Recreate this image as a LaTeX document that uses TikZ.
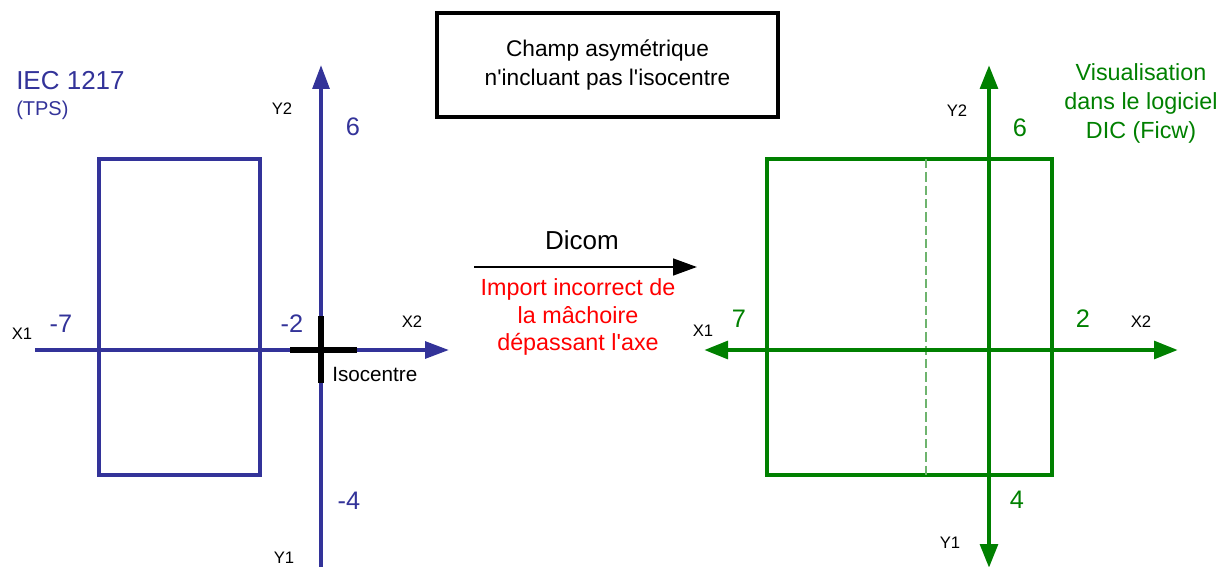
\documentclass[tikz,border=0pt]{standalone}
\usepackage{fontspec}
\setmainfont{Liberation Sans}
\usetikzlibrary{arrows.meta}
\definecolor{iecblue}{RGB}{51,51,153}
\definecolor{dicgreen}{RGB}{0,128,0}
\definecolor{dashgreen}{RGB}{110,180,110}
\newcommand{\sq}{\XeTeXglyph\XeTeXcharglyph"27\relax}
\begin{document}
\begin{tikzpicture}[x=0.75pt,y=-0.75pt,
  axlbl/.style={inner sep=0pt, font=\fontsize{12.5}{14}\selectfont},
  num/.style={inner sep=0pt, font=\fontsize{19}{22}\selectfont},
  tipmark/.style={-{Triangle[length=18pt,width=12.5pt]}},
  bothtips/.style={{Triangle[length=18pt,width=13pt]}-{Triangle[length=18pt,width=13pt]}},
  blueaxis/.style={draw=iecblue, line width=3pt},
  bluerect/.style={draw=iecblue, line width=3pt},
  greenaxis/.style={draw=dicgreen, fill=dicgreen, line width=3.6pt},
  greenrect/.style={draw=dicgreen, line width=3pt},
  crossline/.style={draw=black, line width=4.5pt},
  titlebox/.style={draw=black, line width=3pt, inner sep=0pt, minimum width=255.75pt, minimum height=78pt, align=center, font=\fontsize{17}{21.75}\selectfont},
  redtext/.style={text=red, inner sep=0pt, align=center, font=\fontsize{17.5}{20.5}\selectfont},
  greentext/.style={text=dicgreen, inner sep=0pt, align=center, font=\fontsize{17.5}{21.75}\selectfont}
]
\useasboundingbox (0,0) rectangle (1222,567);

% ---------------- left diagram (IEC 1217) ----------------
\coordinate (lyb) at (321,567);
\coordinate (lyt) at (321,65);
\coordinate (lxl) at (35,350);
\coordinate (lxr) at (449,350);
\draw[bluerect] (99,159) rectangle (260,475);
\draw[blueaxis, tipmark, fill=iecblue] (lyb) -- (lyt);
\draw[blueaxis, tipmark, fill=iecblue] (lxl) -- (lxr);
\coordinate (iso) at (321,350);
\coordinate (crl) at (290,350);
\coordinate (crr) at (357,350);
\coordinate (crt) at (321,316);
\coordinate (crb) at (321,383);
\draw[crossline] (crl) -- (crr);
\draw[crossline] (crt) -- (crb);

\node[anchor=west, inner sep=0pt, text=iecblue, font=\fontsize{19.5}{22}\selectfont] (iec) at (16,81) {IEC 1217};
\node[anchor=west, inner sep=0pt, text=iecblue, font=\fontsize{15}{18}\selectfont] (tps) at (16,110) {(TPS)};
\node[axlbl] (ly2) at (282,109) {Y2};
\node[num, text=iecblue] (l6) at (353,127) {6};
\node[axlbl] (lx1) at (22,334) {X1};
\node[num, text=iecblue] (lm7) at (61,324) {-7};
\node[num, text=iecblue] (lm2) at (292,324) {-2};
\node[axlbl] (lx2) at (412,322) {X2};
\node[anchor=west, inner sep=0pt, font=\fontsize{15.5}{18}\selectfont] (isolbl) at (332,374) {Isocentre};
\node[num, text=iecblue] (lm4) at (349,501) {-4};
\node[axlbl] (ly1) at (284,558) {Y1};

% ---------------- title ----------------
\node[titlebox] (title) at (607.5,65) {Champ asymétrique\\n\sq incluant pas l\sq isocentre};

% ---------------- middle arrow ----------------
\coordinate (ma) at (474,267);
\coordinate (mb) at (697,267);
\draw[black, line width=2pt, tipmark, fill=black] (ma) -- (mb);
\node[inner sep=0pt, font=\fontsize{19.5}{22}\selectfont] (dicom) at (582,240) {Dicom};
\node[redtext] (err) at (578,317) {Import incorrect de\\la mâchoire\\dépassant l\sq axe};

% ---------------- right diagram (DIC) ----------------
\coordinate (ryb) at (989,568);
\coordinate (ryt) at (989,65);
\coordinate (rxl) at (704,350);
\coordinate (rxr) at (1178,350);
\draw[greenrect] (767,159) rectangle (1052,475);
\coordinate (dsh1) at (926,159);
\coordinate (dsh2) at (926,475);
\draw[dashgreen, line width=1.1pt, dash pattern=on 7pt off 3pt] (dsh1) -- (dsh2);
\draw[greenaxis, bothtips] (ryb) -- (ryt);
\draw[greenaxis, bothtips] (rxl) -- (rxr);

\node[axlbl] (ry2) at (957,111) {Y2};
\node[num, text=dicgreen] (r6) at (1020,128) {6};
\node[greentext] (vis) at (1141,103) {Visualisation\\dans le logiciel\\DIC (Ficw)};
\node[axlbl] (rx1) at (703,331) {X1};
\node[num, text=dicgreen] (r7) at (739,319) {7};
\node[num, text=dicgreen] (r2) at (1083,319) {2};
\node[axlbl] (rx2) at (1141,322) {X2};
\node[num, text=dicgreen] (r4) at (1017,500) {4};
\node[axlbl] (ry1) at (950,543) {Y1};
\end{tikzpicture}
\end{document}
